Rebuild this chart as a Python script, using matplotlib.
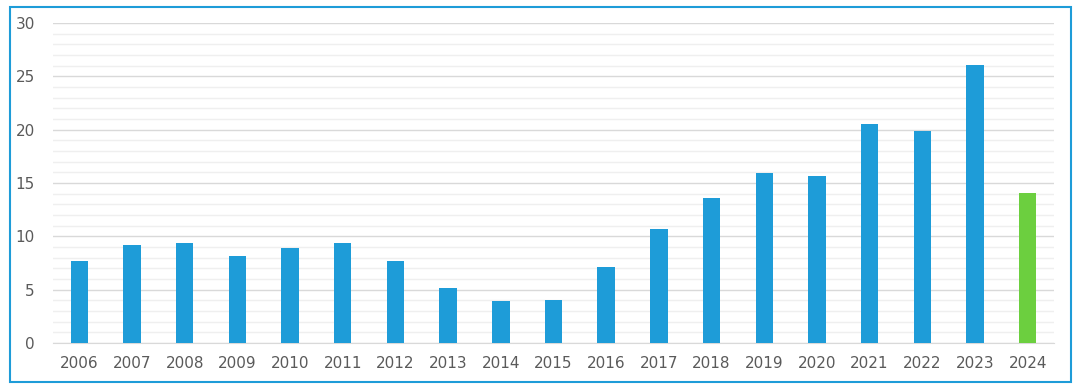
import matplotlib.pyplot as plt
from matplotlib.patches import Rectangle
from matplotlib.ticker import MultipleLocator

# dados do grafico
anos = ['2006', '2007', '2008', '2009', '2010', '2011', '2012', '2013', '2014', '2015',
        '2016', '2017', '2018', '2019', '2020', '2021', '2022', '2023', '2024']
valores = [7.7, 9.2, 9.4, 8.2, 8.9, 9.4, 7.7, 5.2, 3.9, 4.0,
           7.1, 10.7, 13.6, 15.9, 15.7, 20.5, 19.9, 26.1, 14.1]
cores = ['#1e9cd8'] * 18 + ['#6ccf3f']

plt.rcParams['font.family'] = ['DejaVu Sans']

fig = plt.figure(figsize=(10.81, 3.91), dpi=100)
ax = fig.add_axes([53 / 1081, 1 - 343 / 391, (1054 - 53) / 1081, 320 / 391])

x = range(len(anos))
ax.bar(x, valores, width=0.33, color=cores, zorder=3)

ax.set_xlim(-0.5, len(anos) - 0.5)
ax.set_ylim(0, 30)
ax.set_xticks(list(x))
ax.set_xticklabels(anos)
ax.yaxis.set_major_locator(MultipleLocator(5))
ax.yaxis.set_minor_locator(MultipleLocator(1))

ax.grid(axis='y', which='major', color='#d9d9d9', lw=1, zorder=0)
ax.grid(axis='y', which='minor', color='#efefef', lw=1, zorder=0)
for s in ['top', 'right', 'left']:
    ax.spines[s].set_visible(False)
ax.spines['bottom'].set_color('#d9d9d9')
ax.tick_params(axis='both', which='both', length=0, labelsize=11, colors='#5a5a5a')
ax.tick_params(axis='y', pad=13)
ax.tick_params(axis='x', pad=9)

# borda azul em volta da figura
fig.patches.append(Rectangle((10 / 1081, 1 - 382 / 391), 1061 / 1081, 375 / 391,
                             transform=fig.transFigure, fill=False,
                             edgecolor='#1e9cd8', lw=1.5))

fig.savefig('out.png', dpi=100)
